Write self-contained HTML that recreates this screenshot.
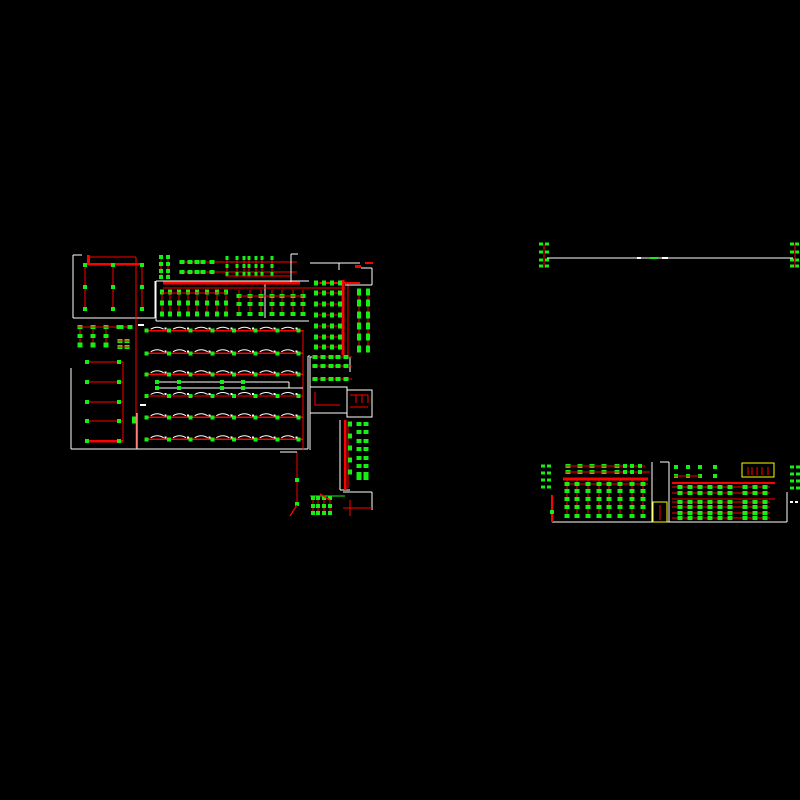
<!DOCTYPE html>
<html><head><meta charset="utf-8"><style>html,body{margin:0;padding:0;background:#000;width:800px;height:800px;overflow:hidden}</style></head>
<body>
<svg id="s" width="800" height="800" viewBox="0 0 800 800" xmlns="http://www.w3.org/2000/svg" shape-rendering="crispEdges" style="display:block;background:#000"></svg>
<script>
var s=document.getElementById('s'),NS='http://www.w3.org/2000/svg';
var GR='#14f014',RD='#ff0000',WH='#ffffff';
function L(x1,y1,x2,y2,c,w){var e=document.createElementNS(NS,'line');e.setAttribute('x1',x1);e.setAttribute('y1',y1);e.setAttribute('x2',x2);e.setAttribute('y2',y2);e.setAttribute('stroke',c);e.setAttribute('stroke-width',w||1.3);s.appendChild(e);}
function R(x,y,w,h,c){var e=document.createElementNS(NS,'rect');e.setAttribute('x',x);e.setAttribute('y',y);e.setAttribute('width',w);e.setAttribute('height',h);e.setAttribute('fill',c);s.appendChild(e);}
function G(x,y,w,h){w=(w||3)*1.35;h=(h||3)*1.35;R(x-w/2,y-h/2,w,h,GR);}
function BOX(x,y,w,h,c){var e=document.createElementNS(NS,'rect');e.setAttribute('x',x);e.setAttribute('y',y);e.setAttribute('width',w);e.setAttribute('height',h);e.setAttribute('fill','none');e.setAttribute('stroke',c||WH);e.setAttribute('stroke-width',1.3);s.appendChild(e);}
function arc(x1,x2,y){var e=document.createElementNS(NS,'path');e.setAttribute('d','M'+x1+' '+y+' Q'+((x1+x2)/2)+' '+(y-4)+' '+x2+' '+y);e.setAttribute('stroke',WH);e.setAttribute('fill','none');e.setAttribute('stroke-width',1);e.setAttribute('shape-rendering','auto');s.appendChild(e);}

L(73,255,73,318,WH);L(73,318,155,318,WH);L(155,281,155,318,WH);L(73,255,82,255,WH);
L(88,257,136,257,RD);L(88,264,142,264,RD,2.5);R(87,255,3,10,RD);
[85,113,142].forEach(function(x){L(x,265,x,309,RD);G(x,265);G(x,287);G(x,309);});
L(136,257,136,448,RD);
[80,93,106].forEach(function(x){L(x,327,x,345,RD);G(x,327,4,3);G(x,336,4,3);G(x,345,4,4);});
L(78,327,130,327,RD);G(120,327,5,3);G(130,327,4,3);
G(120,341,4,3);G(127,341,4,3);G(120,347,4,3);G(127,347,4,3);L(118,341,130,341,RD);L(118,347,130,347,RD);
R(138,324,6,2,WH);R(140,404,6,2,WH);
L(71,368,71,449,WH);L(71,449,308,449,WH);L(137,413,137,449,WH);
[362,382,402,421,441].forEach(function(y,i){L(87,y,123,y,RD,i==4?2.5:1.3);G(87,y);G(119,y);});
L(123,362,123,441,RD);G(134,420,3,5);
L(308,356,308,449,WH);L(308,356,310,356,WH);
var rows=[330.7,353.3,374.3,396,417.3,439.3];
var xs=[146.7,169,190.7,212.3,234,255.7,277.3,298.7];
rows.forEach(function(y){L(146,y,303,y,RD);xs.forEach(function(x){G(x,y);});
 for(var i=0;i<7;i++){arc(xs[i]+4,xs[i]+17,y-1.5);R(xs[i]+18,y-3,2,2,WH);} });
L(303,330,303,450,RD);
L(157,382,289,382,WH);L(157,388,303,388,WH);L(289,382,289,388,WH);
[157,179,222,243].forEach(function(x){G(x,382);G(x,388);});
L(156,281,156,321,WH);L(156,281,309,281,WH);L(156,321,309,321,WH);L(265,281,265,318,WH);
L(163,283,300,283,RD,3);L(163,288,345,288,RD);
[162,170,179,188,197,207,217,226].forEach(function(x){L(x,290,x,315,RD);G(x,292,3,4);G(x,303,3,4);G(x,314,3,4);});
[239,250,261,272,282,293,303].forEach(function(x){L(x,290,x,315,RD);G(x,296,4,3);G(x,304,4,3);G(x,314,4,3);});
L(162,293,226,293,RD);L(239,296,303,296,RD);
[161,168].forEach(function(x){L(x,257,x,277,RD);G(x,257);G(x,264);G(x,271);G(x,277);});
L(179,262,297,262,RD);L(179,272,297,272,RD);
[182,190,197,203,212].forEach(function(x){G(x,262,4,3);G(x,272,4,3);});
[227,237,244,249,256,262,272].forEach(function(x){L(x,256,x,277,RD);G(x,258,2,3);G(x,266,2,3);G(x,274,2,3);});
L(227,276,290,276,RD);L(291,254,291,282,WH);L(291,254,298,254,WH);
L(297,452,297,505,RD);G(297,480);G(297,504);L(297,505,290,516,RD);L(280,452,297,452,WH);
L(310,263,360,263,WH);L(339,263,339,270,WH);
L(343,280,343,355,RD,3);L(348,282,348,355,RD);L(320,283,360,283,RD,2);
[283,293,304,315,326,337,347].forEach(function(y){L(314,y,342,y,RD);[316,324,332,340].forEach(function(x){G(x,y,3,4);});});
[359,368].forEach(function(x){L(x,290,x,352,RD);[292,303,315,326,337,349].forEach(function(y){G(x,y,3,5);});});
L(361,268,372,268,WH);L(372,268,372,285,WH);L(345,285,372,285,WH);R(355,265,6,3,RD);R(365,262,8,2,RD);
L(310,357,350,357,WH);L(350,357,350,372,WH);L(310,357,310,450,WH);
[357,366,379].forEach(function(y){L(312,y,352,y,RD);[315,323,331,338,346].forEach(function(x){G(x,y,4,3);});});
BOX(310,387,37,26);L(315,392,315,405,RD);L(315,405,340,405,RD);
BOX(347,390,25,27);L(350,395,368,395,RD);L(350,407,368,407,RD);[356,362,368].forEach(function(x){L(x,395,x,403,RD);});
L(340,420,340,490,WH);L(340,490,350,490,WH);
L(345,420,345,490,RD,2.5);L(348,422,348,488,RD);
[424,432,441,449,458,466,474,478].forEach(function(y){G(359,y,4,3);G(366,y,4,3);});
[424,436,448,460,472].forEach(function(y){G(350,y,3,4);});
L(343,492,372,492,WH);L(372,492,372,510,WH);L(343,508,372,508,RD);L(350,500,350,516,RD);
[313,318,324,330].forEach(function(x){L(x,496,x,514,RD);G(x,498);G(x,506);G(x,513);});
L(310,496,345,496,GR);L(320,494,330,500,RD);

L(547,258,793,258,WH,1);
[541,547].forEach(function(x){[244,252,260,266].forEach(function(y){G(x,y,3,2);});});
[792,797].forEach(function(x){[244,252,260,266].forEach(function(y){G(x,y,3,2);});});
L(544,244,544,268,RD);L(795,244,795,268,RD);
R(637,257,4,2,WH);R(650,257,8,2,GR);R(662,257,6,2,WH);

L(552,522,787,522,WH);L(669,462,669,522,WH);L(660,462,669,462,WH);L(787,492,787,522,WH);
L(563,479,648,479,RD,3);L(566,484,648,484,RD);L(672,483,775,483,RD,2);L(672,499,775,499,RD);
[567,577,588,599,609,620,632,643].forEach(function(x){L(x,479,x,518,RD);[484,491,499,507,516].forEach(function(y){G(x,y,4,3);});});
[568,580,592,604,617].forEach(function(x){G(x,466,4,3);G(x,472,4,3);});L(565,466,645,466,RD);L(565,472,650,472,RD);
[625,632,640].forEach(function(x){G(x,466,3,3);G(x,472,3,3);});
[543,549].forEach(function(x){[466,473,480,487].forEach(function(y){G(x,y,3,2);});});
L(552,495,552,522,RD,2);G(552,512);
[676,688,700,715].forEach(function(x){G(x,467,3,3);G(x,476,3,3);});L(674,476,700,476,RD);
L(652,462,652,522,WH);BOX(653,502,14,20,'#ffff00');L(660,505,660,520,RD);
BOX(742,463,32,14,'#ffff00');[748,752,757,762,768].forEach(function(x){L(x,467,x,475,RD);});
[792,798].forEach(function(x){[467,474,481,488].forEach(function(y){G(x,y,3,2);});});
[487,493,502,507,513,518].forEach(function(y){L(672,y,770,y,RD);[680,690,700,710,720,730,745,755,765].forEach(function(x){G(x,y,4,3);});});
R(790,501,3,2,WH);R(795,501,3,2,WH);
</script>
</body></html>
